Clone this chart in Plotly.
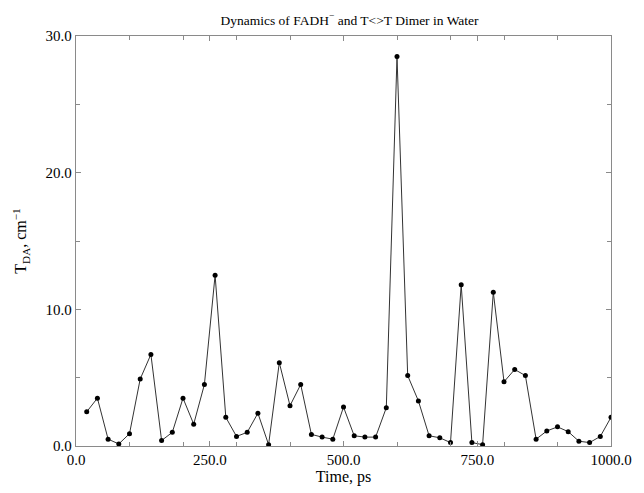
import plotly.graph_objects as go

time_ps = [20, 40, 60, 80, 100, 120, 140, 160, 180, 200,
           220, 240, 260, 280, 300, 320, 340, 360, 380, 400,
           420, 440, 460, 480, 500, 520, 540, 560, 580, 600,
           620, 640, 660, 680, 700, 720, 740, 760, 780, 800,
           820, 840, 860, 880, 900, 920, 940, 960, 980, 1000]
tda = [2.5, 3.5, 0.5, 0.15, 0.9, 4.9, 6.7, 0.4, 1.0, 3.5,
       1.6, 4.5, 12.5, 2.1, 0.7, 1.0, 2.4, 0.1, 6.1, 2.95,
       4.5, 0.85, 0.65, 0.5, 2.85, 0.75, 0.65, 0.65, 2.8, 28.5,
       5.15, 3.3, 0.75, 0.6, 0.25, 11.8, 0.25, 0.1, 11.25, 4.7,
       5.6, 5.15, 0.5, 1.1, 1.4, 1.05, 0.35, 0.25, 0.7, 2.1]

x_ticks = [0, 250, 500, 750, 1000]
x_ticklabels = ["0.0", "250.0", "500.0", "750.0", "1000.0"]
y_ticks = [0, 10, 20, 30]
y_ticklabels = ["0.0", "10.0", "20.0", "30.0"]

serif = "Liberation Serif, Times New Roman, serif"

fig = go.Figure()
fig.add_trace(go.Scatter(
    x=time_ps, y=tda, mode="lines+markers",
    line=dict(color="#333333", width=1),
    marker=dict(color="black", size=5),
    showlegend=False,
))

axis_common = dict(
    showline=True, linecolor="#8a8a8a", linewidth=1.3, mirror="ticks",
    ticks="inside", ticklen=5, tickcolor="#8a8a8a", showgrid=False,
    zeroline=False, tickfont=dict(family=serif, size=15, color="black"),
)

fig.update_layout(
    width=644, height=493,
    margin=dict(l=76, r=21, t=36, b=40),
    paper_bgcolor="white", plot_bgcolor="white",
    title=dict(text="Dynamics of FADH<sup>−</sup> and T&lt;&gt;T Dimer in Water",
               x=(76 + 623) / 2 / 644, xanchor="center",
               y=1 - 20 / 493, yanchor="middle", yref="container",
               font=dict(family=serif, size=13.5, color="black")),
    xaxis=dict(range=[0, 1000], tickvals=x_ticks, ticktext=x_ticklabels,
               minor=dict(dtick=100, tick0=0, ticks="inside", ticklen=4, tickcolor="#8a8a8a"),
               title=dict(text="Time, ps", standoff=2,
                          font=dict(family=serif, size=16, color="black")),
               **axis_common),
    yaxis=dict(range=[0, 30], tickvals=y_ticks, ticktext=y_ticklabels,
               minor=dict(dtick=5, tick0=0, ticks="inside", ticklen=4, tickcolor="#8a8a8a"),
               title=dict(text="T<sub>DA</sub>, cm<sup>−1</sup>", standoff=14,
                          font=dict(family=serif, size=16, color="black")),
               **axis_common),
)

fig.write_html("out.html")
